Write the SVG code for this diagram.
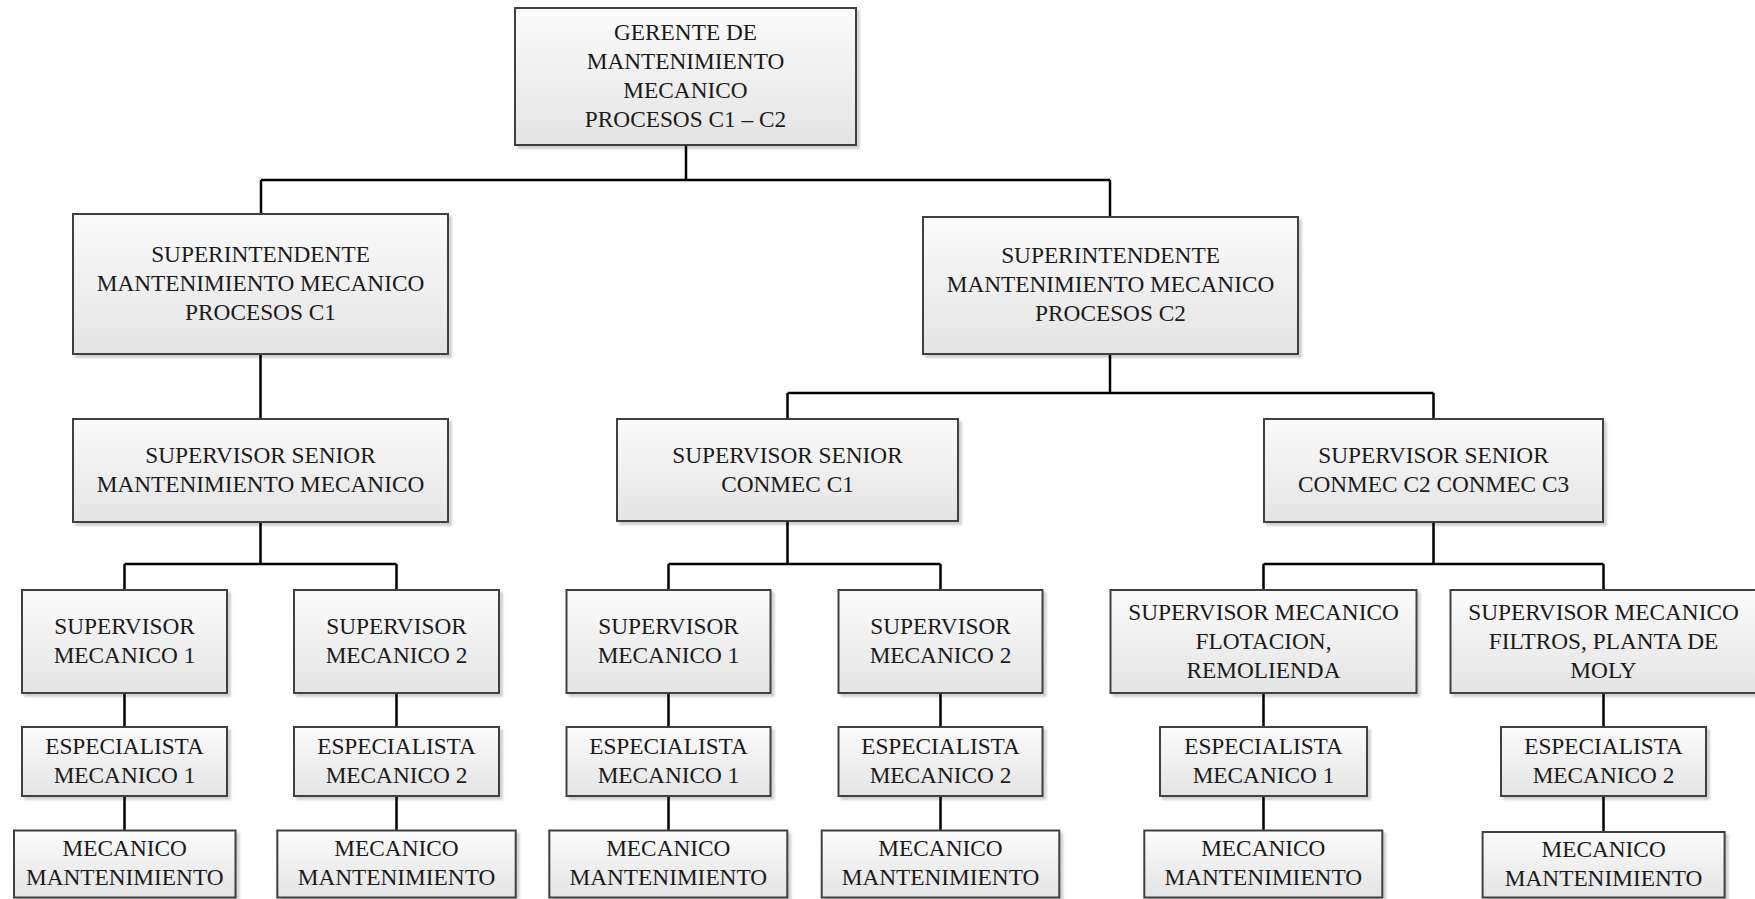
<svg xmlns="http://www.w3.org/2000/svg" width="1755" height="899" viewBox="0 0 1755 899">
  <style>
    .box { fill: url(#boxFill); stroke: #3f3f3f; stroke-width: 2; filter: url(#shadow); }
    .lbl { font-family: "Liberation Serif", "Times New Roman", serif; font-size: 23.3px; fill: #1a1a1a; text-anchor: middle; }
    .conn { fill: none; stroke: #000; stroke-width: 2.5; }
  </style>
  <defs>
    <linearGradient id="boxFill" x1="0" y1="0" x2="0" y2="1">
      <stop offset="0" stop-color="#fbfbfb"/>
      <stop offset="1" stop-color="#e4e4e4"/>
    </linearGradient>
    <filter id="shadow" x="-10%" y="-10%" width="125%" height="130%">
      <feDropShadow dx="3" dy="3" stdDeviation="1.2" flood-color="#000" flood-opacity="0.18"/>
    </filter>
  </defs>
  <rect width="1755" height="899" fill="#fff"/>

  <!-- connectors -->
  <g id="connectors" class="conn">
    <path d="M686 145 V180 M261 180 H1110 M261 180 V214 M1110 180 V217"/>
    <path d="M260.5 354 V419"/>
    <path d="M1110 354 V393 M787.5 393 H1433.5 M787.5 393 V419 M1433.5 393 V419"/>
    <path d="M260.5 522 V564 M124.5 564 H396.5 M124.5 564 V590 M396.5 564 V590"/>
    <path d="M787.5 521 V564 M668.5 564 H940.5 M668.5 564 V590 M940.5 564 V590"/>
    <path d="M1433.5 522 V564 M1263.5 564 H1603.5 M1263.5 564 V590 M1603.5 564 V590"/>
    <path d="M124.5 693 V727 M124.5 796 V830.5"/>
    <path d="M396.5 693 V727 M396.5 796 V830.5"/>
    <path d="M668.5 693 V727 M668.5 796 V830.5"/>
    <path d="M940.5 693 V727 M940.5 796 V830.5"/>
    <path d="M1263.5 693 V727 M1263.5 796 V830.5"/>
    <path d="M1603.5 693 V727 M1603.5 796 V832"/>
  </g>

  <!-- level 0 -->
  <g id="gerente">
    <rect class="box" x="515" y="8" width="341" height="137"/>
    <text class="lbl"><tspan x="685.5" y="39.5">GERENTE DE</tspan><tspan x="685.5" y="68.5">MANTENIMIENTO</tspan><tspan x="685.5" y="97.5">MECANICO</tspan><tspan x="685.5" y="126.5">PROCESOS C1 – C2</tspan></text>
  </g>

  <!-- level 1 -->
  <g id="superintendente-c1">
    <rect class="box" x="73" y="214" width="375" height="140"/>
    <text class="lbl"><tspan x="260.5" y="261.7">SUPERINTENDENTE</tspan><tspan x="260.5" y="290.7">MANTENIMIENTO MECANICO</tspan><tspan x="260.5" y="319.7">PROCESOS C1</tspan></text>
  </g>
  <g id="superintendente-c2">
    <rect class="box" x="923" y="217" width="375" height="137"/>
    <text class="lbl"><tspan x="1110.5" y="263.2">SUPERINTENDENTE</tspan><tspan x="1110.5" y="292.2">MANTENIMIENTO MECANICO</tspan><tspan x="1110.5" y="321.2">PROCESOS C2</tspan></text>
  </g>

  <!-- level 2 -->
  <g id="senior-mm">
    <rect class="box" x="73" y="419" width="375" height="103"/>
    <text class="lbl"><tspan x="260.5" y="462.7">SUPERVISOR SENIOR</tspan><tspan x="260.5" y="491.7">MANTENIMIENTO MECANICO</tspan></text>
  </g>
  <g id="senior-conmec-c1">
    <rect class="box" x="617" y="419" width="341" height="102"/>
    <text class="lbl"><tspan x="787.5" y="462.7">SUPERVISOR SENIOR</tspan><tspan x="787.5" y="491.7">CONMEC C1</tspan></text>
  </g>
  <g id="senior-conmec-c2-c3">
    <rect class="box" x="1264" y="419" width="339" height="103"/>
    <text class="lbl"><tspan x="1433.5" y="462.7">SUPERVISOR SENIOR</tspan><tspan x="1433.5" y="491.7">CONMEC C2 CONMEC C3</tspan></text>
  </g>

  <!-- level 3 -->
  <g id="sup-mm-1">
    <rect class="box" x="22" y="590" width="205" height="103"/>
    <text class="lbl"><tspan x="124.5" y="633.7">SUPERVISOR</tspan><tspan x="124.5" y="662.7">MECANICO 1</tspan></text>
  </g>
  <g id="sup-mm-2">
    <rect class="box" x="294" y="590" width="205" height="103"/>
    <text class="lbl"><tspan x="396.5" y="633.7">SUPERVISOR</tspan><tspan x="396.5" y="662.7">MECANICO 2</tspan></text>
  </g>
  <g id="sup-c1-1">
    <rect class="box" x="566.5" y="590" width="204" height="103"/>
    <text class="lbl"><tspan x="668.5" y="633.7">SUPERVISOR</tspan><tspan x="668.5" y="662.7">MECANICO 1</tspan></text>
  </g>
  <g id="sup-c1-2">
    <rect class="box" x="838.5" y="590" width="204" height="103"/>
    <text class="lbl"><tspan x="940.5" y="633.7">SUPERVISOR</tspan><tspan x="940.5" y="662.7">MECANICO 2</tspan></text>
  </g>
  <g id="sup-flotacion">
    <rect class="box" x="1110.5" y="590" width="306" height="103"/>
    <text class="lbl"><tspan x="1263.5" y="619.7">SUPERVISOR MECANICO</tspan><tspan x="1263.5" y="648.7">FLOTACION,</tspan><tspan x="1263.5" y="677.7">REMOLIENDA</tspan></text>
  </g>
  <g id="sup-filtros">
    <rect class="box" x="1450.5" y="590" width="306" height="103"/>
    <text class="lbl"><tspan x="1603.5" y="619.7">SUPERVISOR MECANICO</tspan><tspan x="1603.5" y="648.7">FILTROS, PLANTA DE</tspan><tspan x="1603.5" y="677.7">MOLY</tspan></text>
  </g>

  <!-- level 4 -->
  <g id="esp-mm-1">
    <rect class="box" x="22" y="727" width="205" height="69"/>
    <text class="lbl"><tspan x="124.5" y="753.7">ESPECIALISTA</tspan><tspan x="124.5" y="782.7">MECANICO 1</tspan></text>
  </g>
  <g id="esp-mm-2">
    <rect class="box" x="294" y="727" width="205" height="69"/>
    <text class="lbl"><tspan x="396.5" y="753.7">ESPECIALISTA</tspan><tspan x="396.5" y="782.7">MECANICO 2</tspan></text>
  </g>
  <g id="esp-c1-1">
    <rect class="box" x="566.5" y="727" width="204" height="69"/>
    <text class="lbl"><tspan x="668.5" y="753.7">ESPECIALISTA</tspan><tspan x="668.5" y="782.7">MECANICO 1</tspan></text>
  </g>
  <g id="esp-c1-2">
    <rect class="box" x="838.5" y="727" width="204" height="69"/>
    <text class="lbl"><tspan x="940.5" y="753.7">ESPECIALISTA</tspan><tspan x="940.5" y="782.7">MECANICO 2</tspan></text>
  </g>
  <g id="esp-flotacion">
    <rect class="box" x="1160" y="727" width="207" height="69"/>
    <text class="lbl"><tspan x="1263.5" y="753.7">ESPECIALISTA</tspan><tspan x="1263.5" y="782.7">MECANICO 1</tspan></text>
  </g>
  <g id="esp-filtros">
    <rect class="box" x="1501" y="727" width="205" height="69"/>
    <text class="lbl"><tspan x="1603.5" y="753.7">ESPECIALISTA</tspan><tspan x="1603.5" y="782.7">MECANICO 2</tspan></text>
  </g>

  <!-- level 5 -->
  <g id="mec-mm-1">
    <rect class="box" x="14" y="830.5" width="221.5" height="67"/>
    <text class="lbl"><tspan x="124.75" y="856.3">MECANICO</tspan><tspan x="124.75" y="885.3">MANTENIMIENTO</tspan></text>
  </g>
  <g id="mec-mm-2">
    <rect class="box" x="277.3" y="830.5" width="238.4" height="67"/>
    <text class="lbl"><tspan x="396.5" y="856.3">MECANICO</tspan><tspan x="396.5" y="885.3">MANTENIMIENTO</tspan></text>
  </g>
  <g id="mec-c1-1">
    <rect class="box" x="549.3" y="830.5" width="238" height="67"/>
    <text class="lbl"><tspan x="668.3" y="856.3">MECANICO</tspan><tspan x="668.3" y="885.3">MANTENIMIENTO</tspan></text>
  </g>
  <g id="mec-c1-2">
    <rect class="box" x="821.7" y="830.5" width="237.6" height="67"/>
    <text class="lbl"><tspan x="940.5" y="856.3">MECANICO</tspan><tspan x="940.5" y="885.3">MANTENIMIENTO</tspan></text>
  </g>
  <g id="mec-flotacion">
    <rect class="box" x="1144.3" y="830.5" width="238" height="67"/>
    <text class="lbl"><tspan x="1263.3" y="856.3">MECANICO</tspan><tspan x="1263.3" y="885.3">MANTENIMIENTO</tspan></text>
  </g>
  <g id="mec-filtros">
    <rect class="box" x="1482.6" y="832" width="242" height="65.5"/>
    <text class="lbl"><tspan x="1603.6" y="857.3">MECANICO</tspan><tspan x="1603.6" y="886.3">MANTENIMIENTO</tspan></text>
  </g>
</svg>
